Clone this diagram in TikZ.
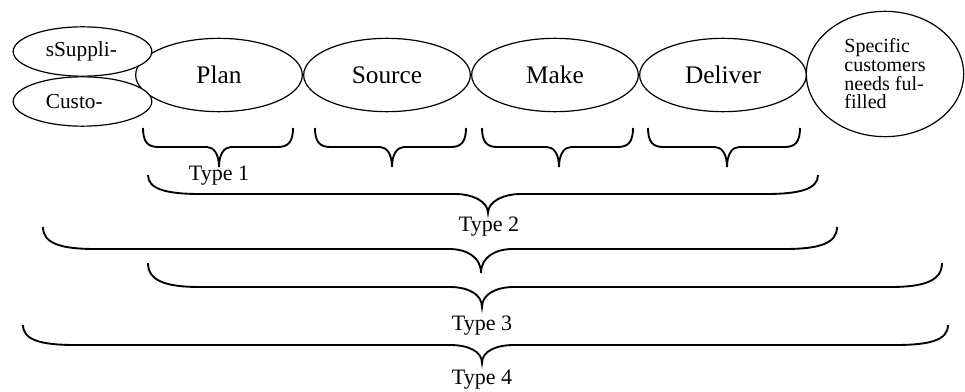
\documentclass[tikz,border=0pt]{standalone}
\usepackage{fontspec}
\setmainfont{Liberation Serif}
\usetikzlibrary{shapes.geometric}

\tikzset{
  stage/.style={draw, line width=0.9pt, ellipse, inner sep=0pt, minimum width=125pt, minimum height=55pt, font=\fontsize{19}{21}\selectfont},
  party/.style={draw, line width=0.9pt, ellipse, fill=white, inner sep=0pt, minimum width=104pt, minimum height=37pt, text width=55pt, align=left, font=\fontsize{16}{18}\selectfont},
  bracket/.style={line width=1.4pt},
  typelabel/.style={font=\fontsize{16.5}{18}\selectfont}
}

\begin{document}
\begin{tikzpicture}[x=0.75pt,y=0.75pt,yscale=-1,xscale=1]
	\useasboundingbox (0,0) rectangle (965,392);

	%Shape: Ellipses of the chain
	\node [stage] (plan) at (219,75) {Plan};
	\node [stage] (source) at (387,75) {Source};
	\node [stage] (make) at (555,75) {Make};
	\node [stage] (deliver) at (723,75) {Deliver};
	\node [draw, line width=0.9pt, ellipse, inner sep=0pt, minimum width=118pt, minimum height=94pt, align=left, font=\fontsize{15}{14}\selectfont] (needs) at (885,74) {Specific\\customers\\needs ful-\\filled};

	%Shape: Ellipses on the left
	\node [party] (suppl) at (82.5,51.5) {sSuppli-};
	\node [party] (custo) at (82.5,101.5) {Custo-};

	%Shape: Brace [Plan]
	\draw [bracket] (143,128) .. controls (143,142) and (148,147) .. (158,147) -- (207,147) .. controls (213.6,147) and (219,154) .. (219,167) .. controls (219,154) and (224.4,147) .. (231,147) -- (278,147) .. controls (288,147) and (293,142) .. (293,128) ;
	%Shape: Brace [Source]
	\draw [bracket] (315,128) .. controls (315,142) and (320,147) .. (330,147) -- (380,147) .. controls (386.6,147) and (392,154) .. (392,167) .. controls (392,154) and (397.4,147) .. (404,147) -- (451,147) .. controls (461,147) and (466,142) .. (466,128) ;
	%Shape: Brace [Make]
	\draw [bracket] (482,128) .. controls (482,142) and (487,147) .. (497,147) -- (547,147) .. controls (553.6,147) and (559,154) .. (559,167) .. controls (559,154) and (564.4,147) .. (571,147) -- (618,147) .. controls (628,147) and (633,142) .. (633,128) ;
	%Shape: Brace [Deliver]
	\draw [bracket] (648,128) .. controls (648,142) and (653,147) .. (663,147) -- (715,147) .. controls (721.6,147) and (727,154) .. (727,167) .. controls (727,154) and (732.4,147) .. (739,147) -- (785,147) .. controls (795,147) and (800,142) .. (800,128) ;

	%Shape: Brace [Type 2]
	\draw [bracket] (148,175) .. controls (148,189) and (166,194) .. (200,194) -- (456,194) .. controls (471.6,194) and (488,201) .. (488,213) .. controls (488,201) and (504.4,194) .. (520,194) -- (766,194) .. controls (800,194) and (818,189) .. (818,175) ;
	%Shape: Brace [upper, no label]
	\draw [bracket] (43,227) .. controls (43,243.5) and (61,249) .. (95,249) -- (449,249) .. controls (466.6,249) and (481,257) .. (481,273) .. controls (481,257) and (495.4,249) .. (513,249) -- (785,249) .. controls (819,249) and (837,243.5) .. (837,227) ;
	%Shape: Brace [Type 3]
	\draw [bracket] (148,263) .. controls (148,281) and (166,287) .. (200,287) -- (450,287) .. controls (467.6,287) and (482,294) .. (482,307) .. controls (482,294) and (496.4,287) .. (514,287) -- (890,287) .. controls (924,287) and (942,281) .. (942,263) ;
	%Shape: Brace [Type 4]
	\draw [bracket] (23,325) .. controls (23,340) and (41,345) .. (75,345) -- (450,345) .. controls (467.6,345) and (482,351) .. (482,363) .. controls (482,351) and (496.4,345) .. (514,345) -- (896,345) .. controls (930,345) and (948,340) .. (948,325) ;

	% Text Node
	\node [typelabel] (type1) at (219,176) {Type 1};
	% Text Node
	\node [typelabel] (type2) at (489,227) {Type 2};
	% Text Node
	\node [typelabel] (type3) at (482,326) {Type 3};
	% Text Node
	\node [typelabel] (type4) at (482,380) {Type 4};
\end{tikzpicture}
\end{document}
